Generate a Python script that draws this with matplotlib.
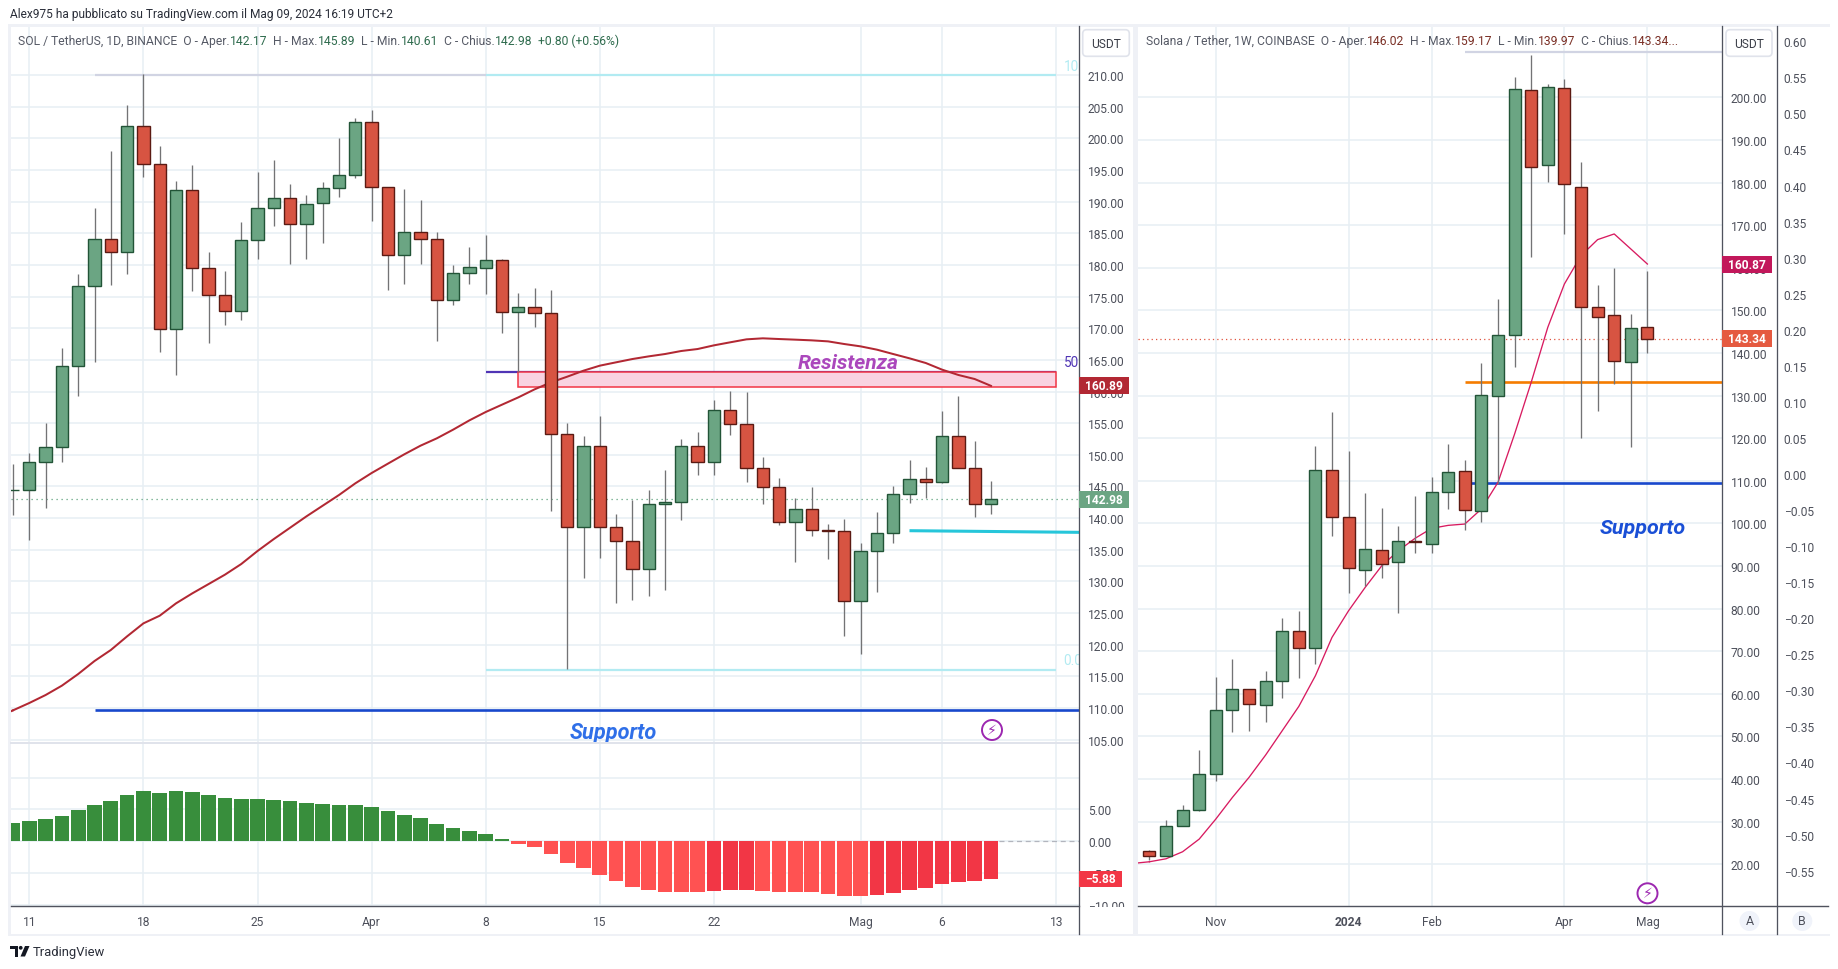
import matplotlib
matplotlib.use("Agg")
import matplotlib.pyplot as plt
from matplotlib import font_manager
from matplotlib.patches import Rectangle, Circle, FancyBboxPatch, Polygon
from matplotlib.lines import Line2D
from matplotlib.transforms import IdentityTransform

# ---------- data: left chart (SOL/USDT daily) ----------
sol_day = list(range(-1, 60))
sol_open = [144.38,144.38,148.81,151.18,163.97,176.61,184.04,182.09,201.89,195.89,169.82,191.78,179.46,175.19,172.66,183.88,188.94,190.52,186.41,189.73,192.10,194.15,202.52,192.25,181.51,185.14,184.04,174.40,178.67,179.46,180.72,172.50,173.30,172.35,153.23,138.54,151.34,138.54,136.33,131.90,142.17,142.49,151.34,148.81,157.02,154.81,147.86,144.86,139.33,141.38,138.07,137.91,126.85,134.75,137.59,143.75,146.12,145.75,152.92,147.97,142.17]
sol_high = [148.54,150.23,155.02,166.82,178.56,188.99,197.99,205.26,210.16,198.78,193.25,195.78,182.04,179.04,186.78,194.68,196.57,192.78,191.04,193.10,200.05,203.21,204.47,192.25,191.99,190.25,185.14,179.99,182.83,184.72,181.00,175.56,176.35,176.03,155.02,152.97,156.13,140.65,142.91,144.44,147.60,152.50,153.60,158.66,160.08,159.92,149.60,146.33,143.12,144.91,139.07,139.86,136.07,140.96,145.07,149.18,148.07,156.92,159.29,152.18,145.89]
sol_low = [140.54,136.59,141.64,148.91,159.34,164.71,176.88,178.56,193.94,166.19,162.66,175.88,167.71,170.56,171.35,180.93,186.20,180.14,180.98,183.51,190.73,193.73,186.99,176.09,177.04,180.14,168.03,173.72,177.04,175.40,169.29,163.10,170.19,141.17,116.16,130.59,133.70,126.64,127.11,127.75,128.69,139.75,146.86,146.86,153.18,145.75,142.28,138.96,133.12,137.22,133.59,121.43,118.58,128.38,136.12,142.44,143.17,145.60,147.97,140.23,140.61]
sol_close = [144.38,148.81,151.18,163.97,176.61,184.04,182.09,201.89,195.89,169.82,191.78,179.46,175.19,172.66,183.88,188.94,190.52,186.41,189.57,192.10,194.15,202.52,192.25,181.51,185.14,184.04,174.40,178.67,179.62,180.72,172.50,173.30,172.35,153.23,138.54,151.34,138.54,136.33,131.90,142.17,142.49,151.34,148.81,157.02,154.81,147.86,144.86,139.33,141.38,138.07,137.91,126.85,134.75,137.59,143.75,146.12,145.75,152.92,147.97,142.17,142.98]
sol_ma = [109.63,110.79,112.05,113.53,115.37,117.42,119.16,121.32,123.37,124.58,126.53,128.11,129.58,131.06,132.74,134.80,136.69,138.48,140.27,141.96,143.65,145.49,147.12,148.60,150.07,151.44,152.60,153.97,155.44,156.76,157.92,159.07,160.34,161.44,162.34,163.29,164.08,164.61,165.13,165.55,165.92,166.40,166.71,167.29,167.77,168.24,168.40,168.29,168.19,168.08,167.92,167.50,167.13,166.61,165.92,165.24,164.50,163.45,162.61,161.97,160.89]
sol_hist = [2.93,3.25,3.56,4.03,4.97,5.76,6.39,7.33,7.96,7.64,7.96,7.80,7.33,6.86,6.70,6.70,6.54,6.39,6.07,5.92,5.76,5.76,5.45,4.82,4.19,3.72,2.77,2.15,1.68,1.20,0.42,-0.37,-0.84,-1.94,-3.35,-4.14,-5.24,-6.18,-7.12,-7.59,-7.91,-7.92,-7.93,-7.75,-7.59,-7.59,-7.75,-7.91,-7.92,-7.94,-8.22,-8.53,-8.54,-8.38,-8.06,-7.59,-7.28,-6.65,-6.34,-6.18,-5.88]
left_tick_days = [0, 7, 14, 21, 28, 35, 42, 51, 56, 63]
left_tick_labels = ["11", "18", "25", "Apr", "8", "15", "22", "Mag", "6", "13"]
left_price_ticks = list(range(105, 215, 5))
hist_ticks = [10, 5, 0, -5, -10]
hist_tick_labels = ["", "5.00", "0.00", "\u22125.00", "\u221210.00"]
fib_top, fib_mid, fib_low = 210.0, 163.08, 116.0
res_low, res_high = 160.66, 163.08
left_support = 109.74
left_trend = [138.01, 137.75]

# ---------- data: right chart (SOL/USDT weekly) ----------
wk_index = list(range(31))
wk_open = [23.02,21.84,28.88,32.64,41.09,56.11,61.04,57.29,62.92,74.66,70.82,112.45,101.42,89.13,93.67,91.01,95.79,95.24,107.29,112.22,102.98,129.98,144.14,201.64,184.05,202.12,178.88,150.72,148.84,137.80,146.02]
wk_high = [23.25,30.37,33.89,46.80,63.94,68.16,61.20,65.35,77.79,79.43,118.16,126.15,117.00,107.13,103.61,99.38,106.43,110.89,118.63,114.88,137.65,152.67,204.78,209.95,203.06,204.31,184.83,155.96,159.95,149.15,159.17]
wk_low = [21.06,21.84,28.88,32.40,39.60,51.11,51.34,53.45,59.09,63.78,67.07,97.04,83.74,85.38,87.26,79.04,93.12,93.12,103.38,98.52,100.32,109.20,136.79,162.61,180.14,167.93,120.12,126.46,132.80,118.01,139.97]
wk_close = [21.84,28.88,32.64,41.09,56.11,61.04,57.52,62.92,74.66,70.82,112.45,101.42,89.45,93.91,90.54,95.79,95.55,107.29,111.98,103.22,130.06,144.14,201.89,183.58,202.36,179.59,150.72,148.37,138.04,145.79,143.34]
wk_ma = [20.59,21.29,22.94,25.91,30.61,35.69,40.39,45.63,51.34,57.05,64.25,73.25,79.51,84.99,90.07,93.59,96.49,98.84,99.54,99.85,103.38,109.64,120.98,133.11,146.02,156.19,162.84,166.60,167.93,164.41,160.87]
right_tick_idx = [4, 12, 17, 25, 30]
right_tick_labels = ["Nov", "2024", "Feb", "Apr", "Mag"]
right_price_ticks = list(range(20, 210, 10))
pct_ticks = [0.60,0.55,0.50,0.45,0.40,0.35,0.30,0.25,0.20,0.15,0.10,0.05,0.00,-0.05,-0.10,-0.15,-0.20,-0.25,-0.30,-0.35,-0.40,-0.45,-0.50,-0.55]
right_fib = 210.7
right_orange = 133.25
right_support = 109.55

# ---------- styles ----------
W, H = 1838, 970
GREEN, GREEN_E = "#6ba583", "#225437"
RED, RED_E = "#d75442", "#5b1a13"
WICK = "#737375"
GRID = "#e7eff4"
AXIS = "#50535e"
LABEL = "#4d505b"
FRAME = "#eff1f6"
installed = {f.name for f in font_manager.fontManager.ttflist}
if "Liberation Sans Narrow" in installed:
    FONT, TICK, TITLE, HEAD = "Liberation Sans Narrow", 14.2, 14.8, 14.55
else:
    FONT, TICK, TITLE, HEAD = "Roboto", 12, 12.1, 11.9

plt.rcParams["font.family"] = [FONT, "DejaVu Sans"]
fig = plt.figure(figsize=(W / 100, H / 100), dpi=100, facecolor="white")
ID = IdentityTransform()


def fs(px):
    return px * 0.72


def axes_px(l, t, r, b):
    ax = fig.add_axes([l / W, 1 - b / H, (r - l) / W, (b - t) / H], facecolor="white")
    for s in ax.spines.values():
        s.set_visible(False)
    ax.set_axisbelow(True)
    return ax


def T(x, y, s, size=TICK, color=LABEL, ha="left", va="center", **kw):
    return fig.text(x, H - y, s, transform=ID, fontsize=fs(size), color=color, ha=ha, va=va, zorder=8, **kw)


def rect(x0, y0, x1, y1, color, z=4):
    fig.add_artist(Rectangle((x0, H - y1), x1 - x0, y1 - y0, transform=ID, facecolor=color, edgecolor="none", zorder=z))


def hline(x0, x1, y, color, lw=1.0):
    fig.add_artist(Line2D([x0, x1], [H - y, H - y], transform=ID, color=color, lw=lw * 0.72, zorder=5))


def vline(x, y0, y1, color, lw=1.0):
    fig.add_artist(Line2D([x, x], [H - y0, H - y1], transform=ID, color=color, lw=lw * 0.72, zorder=5))


def badge(ax, value, label, color, x0, x1, h=17):
    yd = ax.transData.transform((0, value))[1]
    y = H - yd
    rect(x0, y - h / 2, x1, y + h / 2, color, z=6)
    T((x0 + x1) / 2, y, label, size=TICK, color="white", ha="center", weight="bold")


def candles(ax, xs, o, h, l, c, width):
    for x, oo, hh, ll, cc in zip(xs, o, h, l, c):
        up = cc >= oo
        ax.vlines(x, ll, hh, color=WICK, lw=0.95, zorder=4)
        ax.bar(x, abs(cc - oo), bottom=min(oo, cc), width=width,
               color=GREEN if up else RED, edgecolor=GREEN_E if up else RED_E,
               linewidth=1.0, zorder=5)


def bolt(x, y):
    fig.add_artist(Circle((x, H - y), 10, transform=ID, facecolor="white", edgecolor="#9c27b0", lw=1.4, zorder=7))
    fig.text(x, H - y, "\u26a1", transform=ID, fontsize=fs(14), color="#9c27b0", ha="center", va="center",
             family="DejaVu Sans", zorder=8)


def chain(x, y, parts, size=TITLE):
    r = fig.canvas.get_renderer()
    for s, col in parts:
        t = T(x, y, s, size=size, color=col)
        t.set_parse_math(False)
        x += t.get_window_extent(r).width
        if s.endswith(" "):
            x += size * 0.25


# ---------- left price pane ----------
LX0, LX1 = 10.5, 1079.3
ldx = lambda px: (px - 29.3) / 16.3
axL = axes_px(LX0, 27, LX1, 744.3)
axL.set_xlim(ldx(LX0), ldx(LX1))
axL.set_ylim(210 - (744.3 - 76) / 6.33, 210 + (76 - 27) / 6.33)
axL.set_xticks(left_tick_days)
axL.tick_params(axis="x", length=0, labelbottom=False)
axL.yaxis.tick_right()
axL.set_yticks(left_price_ticks)
axL.set_yticklabels([f"{v:.2f}" for v in left_price_ticks])
axL.tick_params(axis="y", length=0, pad=6.2, labelsize=fs(TICK), labelcolor=LABEL)
axL.grid(True, color=GRID, lw=1.1)

axL.plot([4, 28], [fib_top, fib_top], color="#d1d4e3", lw=1.6, zorder=2, solid_capstyle="butt")
axL.plot([28, 63], [fib_top, fib_top], color="#b2ebf2", lw=1.6, zorder=2, solid_capstyle="butt")
axL.plot([28, 63], [fib_mid, fib_mid], color="#5035b5", lw=1.6, zorder=2, solid_capstyle="butt")
axL.plot([28, 63], [fib_low, fib_low], color="#b2ebf2", lw=1.6, zorder=2, solid_capstyle="butt")
axL.text(63.45, 211.5, "100", color="#b2ebf2", fontsize=fs(13.5), va="center", clip_on=True)
axL.text(63.45, 164.7, "50.0", color="#5035b5", fontsize=fs(13.5), va="center", clip_on=True)
axL.text(63.45, 117.6, "0.0", color="#b2ebf2", fontsize=fs(13.5), va="center", clip_on=True)
axL.add_patch(Rectangle((30, res_low), 33, res_high - res_low, facecolor="#f9d3e1", edgecolor="#f23645", lw=1.1, zorder=2.5))
axL.plot([4, ldx(LX1)], [left_support, left_support], color="#1848cc", lw=1.9, zorder=3, solid_capstyle="butt")
axL.plot([54, ldx(LX1)], left_trend, color="#26c6da", lw=2.2, zorder=3, solid_capstyle="butt")
axL.axhline(sol_close[-1], color="#5fa37f", lw=0.9, ls=(0, (1, 3)), zorder=3)
axL.plot(sol_day, sol_ma, color="#b22833", lw=1.45, zorder=3.5)
axL.plot([-2, -1], [108.5, sol_ma[0]], color="#b22833", lw=1.45, zorder=3.5)
candles(axL, sol_day, sol_open, sol_high, sol_low, sol_close, 0.75)
axL.text(ldx(848.5), 164.6, "Resistenza", color="#ab47bc", fontsize=fs(21), style="italic", weight="bold",
         family="Roboto", ha="center", va="center", zorder=7)
axL.text(ldx(613), 210 - (732.7 - 76) / 6.33, "Supporto", color="#2f6fe8", fontsize=fs(21.8), style="italic", weight="bold",
         family="Roboto", ha="center", va="center", zorder=7, clip_on=False)

# ---------- left indicator pane ----------
axI = axes_px(LX0, 744.3, LX1, 906.7)
axI.set_xlim(ldx(LX0), ldx(LX1))
axI.set_ylim((842.3 - 906.7) / 6.365, (842.3 - 744.3) / 6.365)
axI.set_xticks(left_tick_days)
axI.set_xticklabels(left_tick_labels)
axI.tick_params(axis="x", length=0, pad=6.5, labelsize=fs(TICK), labelcolor=LABEL)
axI.yaxis.tick_right()
axI.set_yticks(hist_ticks)
axI.set_yticklabels(hist_tick_labels)
axI.tick_params(axis="y", length=0, pad=6.2, labelsize=fs(TICK), labelcolor=LABEL)
axI.grid(True, color=GRID, lw=1.1)
hist_colors = []
for i, v in enumerate(sol_hist):
    if v >= 0:
        hist_colors.append("#388e3c")
    else:
        hist_colors.append("#f23645" if v >= sol_hist[i - 1] else "#ff5252")
axI.bar(sol_day, sol_hist, width=0.9, color=hist_colors, zorder=3)
axI.plot([59.5, ldx(LX1)], [0, 0], color="#b2b5be", lw=0.9, ls=(0, (4, 3)), zorder=2)

# ---------- right price pane ----------
RX0, RX1, RX2, RX3 = 1138.1, 1722.0, 1776.6, 1827.6
rdx = lambda px: (px - 1149.4) / 16.6
axR = axes_px(RX0, 27, RX1, 907.3)
axR.set_xlim(rdx(RX0), rdx(RX1))
axR.set_ylim(200 - (907.3 - 98.3) / 4.261, 200 + (98.3 - 27) / 4.261)
axR.set_xticks(right_tick_idx)
axR.set_xticklabels(right_tick_labels)
axR.tick_params(axis="x", length=0, pad=6.5, labelsize=fs(TICK), labelcolor=LABEL)
axR.get_xticklabels()[1].set_fontweight("bold")
axR.yaxis.tick_right()
axR.set_yticks(right_price_ticks)
axR.set_yticklabels([f"{v:.2f}" for v in right_price_ticks])
axR.tick_params(axis="y", length=0, pad=6.2, labelsize=fs(TICK), labelcolor=LABEL)
axR.grid(True, color=GRID, lw=1.1)
axR.plot([19, rdx(RX1)], [right_fib, right_fib], color="#d1d4e3", lw=1.6, zorder=2, solid_capstyle="butt")
axR.plot([19, rdx(RX1)], [right_orange, right_orange], color="#f57c00", lw=1.9, zorder=3, solid_capstyle="butt")
axR.plot([19, rdx(RX1)], [right_support, right_support], color="#1848cc", lw=1.9, zorder=3, solid_capstyle="butt")
axR.axhline(wk_close[-1], color="#e0533f", lw=0.9, ls=(0, (1, 2.5)), zorder=3)
axR.plot(wk_index, wk_ma, color="#d81b60", lw=0.95, zorder=3.5)
axR.plot([-1, 0], [20.2, wk_ma[0]], color="#d81b60", lw=0.95, zorder=3.5)
candles(axR, wk_index, wk_open, wk_high, wk_low, wk_close, 0.73)
axR.text(rdx(1643), 200 - (528.7 - 98.3) / 4.261, "Supporto", color="#1a4fd6", fontsize=fs(21.5), style="italic", weight="bold",
         family="Roboto", ha="center", va="center", zorder=7)

# ---------- right secondary scale ----------
axB = axes_px(RX1, 27, RX2, 907.3)
axB.patch.set_alpha(0)
axB.set_xticks([])
axB.set_ylim(0.60 - (907.3 - 42.3) / 721.2, 0.60 + (42.3 - 27) / 721.2)
axB.yaxis.tick_right()
axB.set_yticks(pct_ticks)
axB.set_yticklabels([f"{v:.2f}".replace("-", "\u2212") for v in pct_ticks])
axB.tick_params(axis="y", length=0, pad=5.0, labelsize=fs(TICK), labelcolor=LABEL)

# ---------- frame and furniture ----------
rect(1080, 907.5, 1132, 917, "white", z=4)
rect(8, 25, 1133, 27.5, FRAME)
rect(1137, 25, 1830, 27.5, FRAME)
rect(8, 934.5, 1133, 937, FRAME)
rect(1137, 934.5, 1830, 937, FRAME)
rect(8, 25, 10.5, 937, FRAME)
rect(1132.7, 25, 1138, 937, FRAME)
hline(LX0, LX1, 744.3, "#e0e3eb", 2)
hline(LX0, LX1, 906.7, AXIS, 1.4)
hline(RX0, RX3, 907.3, AXIS, 1.4)
vline(LX1, 27, 934.5, AXIS, 1.3)
vline(RX1, 27, 934.5, AXIS, 1.3)
vline(RX2, 27, 934.5, AXIS, 1.3)

fig.add_artist(FancyBboxPatch((1082.7, H - 57.3), 46.6, 26.6, boxstyle="round,pad=0,rounding_size=4", transform=ID,
                              facecolor="white", edgecolor="#e0e3eb", lw=1.2, zorder=6))
T(1106, 44.5, "USDT", size=TICK, color="#3a3d47", ha="center")
fig.add_artist(FancyBboxPatch((1726, H - 57.3), 46, 26.6, boxstyle="round,pad=0,rounding_size=4", transform=ID,
                              facecolor="white", edgecolor="#e0e3eb", lw=1.2, zorder=6))
T(1749, 44.5, "USDT", size=TICK, color="#3a3d47", ha="center")

badge(axL, 160.89, "160.89", "#b22833", LX1, 1129)
badge(axL, sol_close[-1], "142.98", GREEN, LX1, 1129)
badge(axI, sol_hist[-1], "\u22125.88", "#f23645", LX1, 1122, h=16)
badge(axR, wk_ma[-1], "160.87", "#c2185b", RX1, 1772)
badge(axR, wk_close[-1], "143.34", "#e55a40", RX1, 1772)

for x, s in ((1749.5, "A"), (1802.3, "B")):
    fig.add_artist(Circle((x, H - 922), 10, transform=ID, facecolor="#f0f3fa", edgecolor="none", zorder=6))
    T(x, 922, s, size=12.5, color=LABEL, ha="center")

bolt(992, 731)
bolt(1647.5, 894.3)

# titles
T(10, 15, "Alex975 ha pubblicato su TradingView.com il Mag 09, 2024 16:19 UTC+2", size=HEAD, color="#2a2e39")
G, V1, V2 = "#565a66", "#2e6b4d", "#7a2f25"
chain(18, 41.7, [("SOL / TetherUS, 1D, BINANCE  O - Aper.", G), ("142.17", V1), ("  H - Max.", G), ("145.89", V1),
                 ("  L - Min.", G), ("140.61", V1), ("  C - Chius.", G), ("142.98", V1), ("  +0.80 (+0.56%)", V1)])
chain(1145.8, 41.7, [("Solana / Tether, 1W, COINBASE  O - Aper.", G), ("146.02", V2), ("  H - Max.", G), ("159.17", V2),
                     ("  L - Min.", G), ("139.97", V2), ("  C - Chius.", G), ("143.34...", V2)])

# logo
LOGO = "#131722"
rect(10, 947, 18, 950, LOGO, z=6)
rect(14.6, 950, 18, 957.5, LOGO, z=6)
fig.add_artist(Circle((20.7, H - 948.8), 1.9, transform=ID, facecolor=LOGO, edgecolor="none", zorder=6))
fig.add_artist(Polygon([(25, H - 947), (29.5, H - 947), (25, H - 957.5), (20.5, H - 957.5)], closed=True, transform=ID,
                       facecolor=LOGO, edgecolor="none", zorder=6))
T(32.5, 952.5, "TradingView", size=15.5 if FONT != "Roboto" else 13, color="#2a2e39")

fig.savefig("out.png", dpi=100, facecolor="white")
